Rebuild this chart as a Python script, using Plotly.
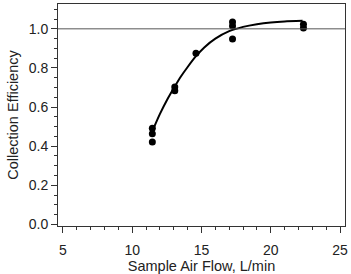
import plotly.graph_objects as go

# measured points
flow_x = [11.45, 11.45, 11.45, 13.07, 13.07, 14.6, 17.24, 17.24, 17.24, 22.36, 22.36]
eff_y = [0.492, 0.463, 0.421, 0.703, 0.683, 0.875, 1.035, 1.015, 0.948, 1.024, 1.004]

# fitted curve
fit_x = [11.5, 12.0, 12.5, 13.07, 13.5, 14.0, 14.6, 15.2, 16.0, 17.0, 18.0, 19.0, 20.0, 21.0, 22.3]
fit_y = [0.485, 0.565, 0.635, 0.705, 0.755, 0.805, 0.86, 0.905, 0.95, 0.988, 1.01, 1.024, 1.033, 1.038, 1.041]

x_ticks = [5, 10, 15, 20, 25]
y_ticks = [0.0, 0.2, 0.4, 0.6, 0.8, 1.0]
ref_level = 1.0

fig = go.Figure()
fig.add_trace(go.Scatter(x=fit_x, y=fit_y, mode="lines",
                         line=dict(color="black", width=2, shape="spline", smoothing=0.6),
                         hoverinfo="skip", showlegend=False))
fig.add_trace(go.Scatter(x=flow_x, y=eff_y, mode="markers",
                         marker=dict(color="black", size=7), showlegend=False))
fig.add_hline(y=ref_level, line=dict(color="#555555", width=1))

axis_common = dict(
    showline=True, linecolor="#333333", linewidth=1, mirror=True,
    ticks="outside", ticklen=6, tickcolor="#333333", tickwidth=1,
    showgrid=False, zeroline=False,
    tickfont=dict(family="Liberation Sans, Arial, sans-serif", size=14, color="#222222"),
)

fig.update_layout(
    width=351, height=274,
    margin=dict(l=58, r=3, t=3, b=47),
    paper_bgcolor="white", plot_bgcolor="white",
    font=dict(family="Liberation Sans, Arial, sans-serif", size=14, color="#222222"),
    xaxis=dict(range=[4.64, 25.36], tickvals=x_ticks, ticklabelstandoff=5,
               minor=dict(dtick=1, ticklen=3, tickcolor="#333333", ticks="outside"),
               title=dict(text="Sample Air Flow, L/min", standoff=3,
                          font=dict(size=14.5)),
               **axis_common),
    yaxis=dict(range=[-0.008, 1.127], tickvals=y_ticks, tickformat=".1f",
               minor=dict(dtick=0.05, ticklen=3, tickcolor="#333333", ticks="outside"),
               title=dict(text="Collection Efficiency", standoff=6,
                          font=dict(size=14.5)),
               **axis_common),
)

fig.write_html("out.html")
